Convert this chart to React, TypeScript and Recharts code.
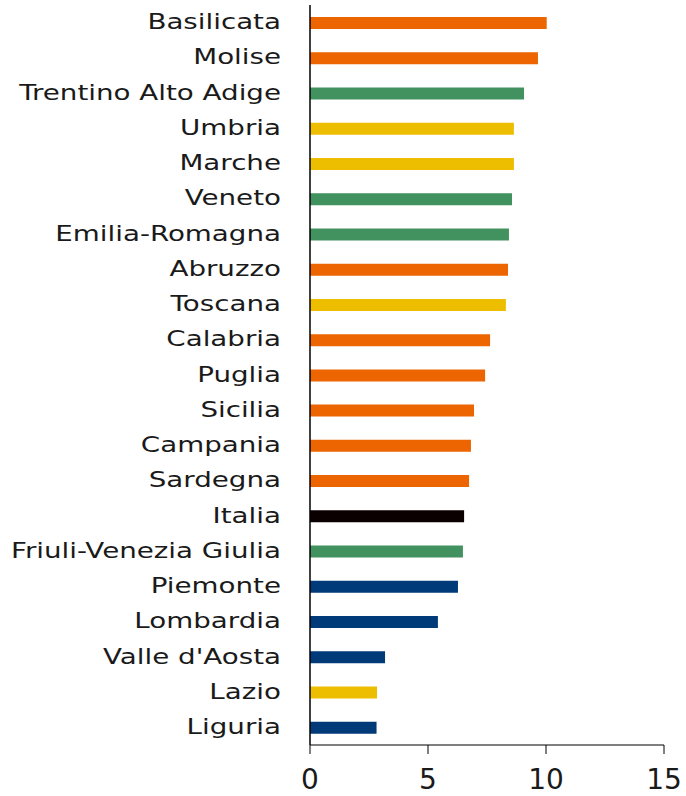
import React from 'react';
import { BarChart, Bar, XAxis, YAxis, Cell } from 'recharts';

const regions = [
  'Basilicata', 'Molise', 'Trentino Alto Adige', 'Umbria', 'Marche', 'Veneto',
  'Emilia-Romagna', 'Abruzzo', 'Toscana', 'Calabria', 'Puglia', 'Sicilia',
  'Campania', 'Sardegna', 'Italia', 'Friuli-Venezia Giulia', 'Piemonte',
  'Lombardia', "Valle d'Aosta", 'Lazio', 'Liguria',
];

const values = [
  10.03, 9.66, 9.07, 8.64, 8.64, 8.56,
  8.43, 8.39, 8.3, 7.63, 7.42, 6.95,
  6.82, 6.74, 6.53, 6.48, 6.27,
  5.42, 3.18, 2.84, 2.82,
];

const areas = [
  'Sud', 'Sud', 'Nord-Est', 'Centro', 'Centro', 'Nord-Est',
  'Nord-Est', 'Sud', 'Centro', 'Sud', 'Sud', 'Sud',
  'Sud', 'Sud', 'Italia', 'Nord-Est', 'Nord-Ovest',
  'Nord-Ovest', 'Nord-Ovest', 'Centro', 'Nord-Ovest',
];

const xTicks = [0, 5, 10, 15];

const areaColors: Record<string, string> = {
  'Sud': '#EC6500',
  'Nord-Est': '#41925E',
  'Centro': '#EDBE00',
  'Nord-Ovest': '#003A78',
  'Italia': '#0A0000',
};

const data = regions.map((name, i) => ({ name, value: values[i], area: areas[i] }));

const FONT = '"DejaVu Sans", sans-serif';

const CategoryTick = (props: any) => {
  const { x, y, payload } = props;
  const tx = x - 27;
  return (
    <text
      x={tx}
      y={y}
      dy="0.3em"
      textAnchor="end"
      fill="#1a1a1a"
      fontSize={22}
      fontFamily={FONT}
      transform={`translate(${tx},0) scale(1.26,1) translate(${-tx},0)`}
    >
      {payload.value}
    </text>
  );
};

export default function App() {
  return (
    <div style={{ position: 'absolute', left: 0, top: 0 }}>
      <BarChart
        width={686}
        height={796}
        data={data}
        layout="vertical"
        margin={{ top: 5, right: 22, bottom: 0, left: 0 }}
        barCategoryGap={0}
      >
        <XAxis
          type="number"
          domain={[0, 15]}
          ticks={xTicks}
          interval={0}
          height={51}
          axisLine={{ stroke: '#000', strokeWidth: 1 }}
          tickLine={{ stroke: '#000', strokeWidth: 1 }}
          tickSize={9}
          tickMargin={15}
          tick={{ fill: '#1a1a1a', fontSize: 28, fontFamily: FONT }}
        />
        <YAxis
          type="category"
          dataKey="name"
          width={310}
          interval={0}
          axisLine={{ stroke: '#000', strokeWidth: 1.5 }}
          tickLine={false}
          tickSize={0}
          tick={<CategoryTick />}
        />
        <Bar dataKey="value" barSize={12} isAnimationActive={false}>
          {data.map((d) => (
            <Cell key={d.name} fill={areaColors[d.area]} />
          ))}
        </Bar>
      </BarChart>
    </div>
  );
}
